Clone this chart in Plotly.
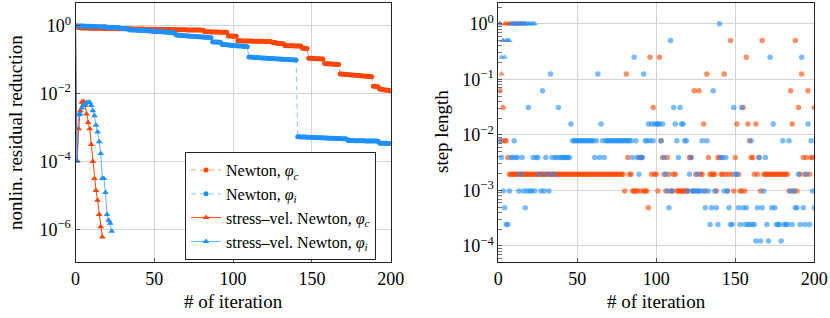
import plotly.graph_objects as go

# ---------------- data ----------------
# left: log10 of nonlinear residual reduction per iteration
newton_c_log = [
    0.000, -0.040, -0.050, -0.058, -0.062, -0.064, -0.066, -0.068, -0.069, -0.070,
    -0.071, -0.072, -0.072, -0.073, -0.074, -0.075, -0.076, -0.077, -0.077, -0.078,
    -0.079, -0.080, -0.081, -0.081, -0.082, -0.083, -0.084, -0.085, -0.086, -0.086,
    -0.087, -0.088, -0.089, -0.090, -0.090, -0.091, -0.092, -0.093, -0.094, -0.095,
    -0.095, -0.096, -0.097, -0.098, -0.099, -0.099, -0.100, -0.101, -0.102, -0.103,
    -0.104, -0.104, -0.105, -0.106, -0.107, -0.108, -0.108, -0.109, -0.110, -0.111,
    -0.112, -0.113, -0.113, -0.114, -0.115, -0.116, -0.117, -0.117, -0.118, -0.119,
    -0.120, -0.121, -0.122, -0.122, -0.123, -0.124, -0.125, -0.126, -0.126, -0.127,
    -0.128, -0.129, -0.175, -0.177, -0.178, -0.179, -0.180, -0.181, -0.182, -0.183,
    -0.184, -0.186, -0.187, -0.188, -0.189, -0.190, -0.191, -0.300, -0.302, -0.304,
    -0.306, -0.308, -0.310, -0.440, -0.442, -0.443, -0.445, -0.447, -0.448, -0.449,
    -0.450, -0.451, -0.452, -0.453, -0.454, -0.455, -0.456, -0.457, -0.458, -0.459,
    -0.460, -0.461, -0.462, -0.463, -0.464, -0.492, -0.494, -0.496, -0.520, -0.522,
    -0.524, -0.528, -0.530, -0.585, -0.586, -0.587, -0.588, -0.589, -0.590, -0.592,
    -0.594, -0.595, -0.596, -0.597, -0.660, -0.665, -0.668, -0.670, -0.955, -0.958,
    -0.960, -0.966, -0.968, -0.970, -0.972, -0.974, -0.978, -0.980, -1.110, -1.115,
    -1.118, -1.121, -1.124, -1.128, -1.131, -1.134, -1.137, -1.140, -1.420, -1.424,
    -1.428, -1.432, -1.436, -1.440, -1.444, -1.448, -1.452, -1.456, -1.460, -1.464,
    -1.468, -1.472, -1.476, -1.480, -1.484, -1.488, -1.492, -1.496, -1.500, -1.780,
    -1.785, -1.790, -1.795, -1.860, -1.870, -1.880, -1.890, -1.895, -1.900, -1.910,
    -1.920,
]
newton_i_log = [
    0.000, -0.003, -0.005, -0.007, -0.009, -0.010, -0.011, -0.013, -0.015, -0.017,
    -0.019, -0.020, -0.022, -0.023, -0.025, -0.026, -0.027, -0.029, -0.030, -0.032,
    -0.045, -0.046, -0.048, -0.049, -0.050, -0.052, -0.053, -0.054, -0.055, -0.080,
    -0.081, -0.083, -0.084, -0.086, -0.120, -0.122, -0.123, -0.125, -0.126, -0.133,
    -0.135, -0.136, -0.138, -0.140, -0.141, -0.143, -0.145, -0.152, -0.155, -0.158,
    -0.161, -0.165, -0.168, -0.171, -0.175, -0.178, -0.181, -0.185, -0.188, -0.192,
    -0.196, -0.200, -0.208, -0.222, -0.275, -0.278, -0.282, -0.285, -0.288, -0.292,
    -0.295, -0.298, -0.302, -0.305, -0.308, -0.312, -0.315, -0.318, -0.322, -0.325,
    -0.328, -0.332, -0.335, -0.338, -0.341, -0.345, -0.350, -0.475, -0.477, -0.479,
    -0.481, -0.483, -0.486, -0.548, -0.551, -0.554, -0.560, -0.564, -0.570, -0.573,
    -0.578, -0.583, -0.588, -0.592, -0.596, -0.599, -0.604, -0.608, -0.612, -0.616,
    -0.920, -0.923, -0.926, -0.929, -0.932, -0.936, -0.939, -0.943, -0.946, -0.949,
    -0.952, -0.955, -0.958, -0.961, -0.964, -0.967, -0.970, -0.973, -0.976, -0.979,
    -0.982, -0.985, -0.988, -0.991, -0.994, -0.996, -0.999, -1.001, -1.004, -1.007,
    -1.010, -3.270, -3.272, -3.274, -3.276, -3.278, -3.280, -3.282, -3.284, -3.286,
    -3.288, -3.290, -3.292, -3.294, -3.296, -3.298, -3.300, -3.302, -3.304, -3.306,
    -3.308, -3.310, -3.312, -3.314, -3.316, -3.318, -3.320, -3.322, -3.324, -3.326,
    -3.328, -3.330, -3.332, -3.380, -3.381, -3.382, -3.383, -3.384, -3.385, -3.386,
    -3.387, -3.388, -3.389, -3.390, -3.391, -3.392, -3.393, -3.394, -3.395, -3.396,
    -3.397, -3.398, -3.399, -3.460, -3.461, -3.462, -3.463, -3.464, -3.465, -3.466,
    -3.468,
]
sv_c_log = [0.0, -3.98, -3.03, -2.50, -2.25, -2.22, -2.35, -2.60, -2.85, -3.03,
            -3.50, -4.00, -4.50, -4.85, -5.14, -5.56, -5.92, -6.22]
sv_i_log = [0.0, -3.98, -2.62, -2.60, -2.42, -2.35, -2.30, -2.27, -2.26, -2.25,
            -2.35, -2.50, -2.65, -2.93, -3.13, -3.42, -3.76, -4.50, -4.50, -4.91,
            -5.56, -5.73, -5.82, -6.05]

# right: step length = 2^-k, k per iteration (iterations 1..N)
newton_c_k = [
    4, 7, 5, 7, 7, 8, 9, 9, 9, 9,
    9, 9, 9, 9, 9, 9, 9, 9, 9, 9,
    9, 9, 9, 9, 9, 9, 9, 9, 9, 9,
    9, 9, 9, 9, 9, 9, 9, 9, 9, 9,
    9, 9, 9, 9, 9, 9, 9, 9, 9, 9,
    9, 9, 9, 9, 9, 9, 9, 9, 9, 9,
    9, 9, 9, 9, 9, 9, 9, 9, 9, 9,
    9, 9, 9, 9, 9, 9, 9, 9, 9, 10,
    3, 8, 9, 9, 10, 10, 10, 10, 8, 10,
    8, 10, 10, 10, 11, 2, 9, 5, 9, 9,
    10, 2, 7, 8, 9, 10, 8, 9, 10, 10,
    9, 9, 10, 10, 10, 10, 10, 10, 10, 10,
    8, 8, 10, 4, 9, 10, 4, 9, 9, 6,
    10, 3, 8, 9, 9, 9, 9, 10, 8, 8,
    9, 9, 3, 9, 10, 9, 1, 9, 10, 8,
    6, 9, 10, 10, 5, 10, 2, 6, 7, 8,
    8, 9, 6, 9, 8, 10, 1, 9, 9, 9,
    9, 9, 9, 9, 9, 9, 9, 9, 9, 9,
    9, 9, 9, 10, 4, 6, 10, 1, 10, 5,
    9, 3, 8, 9, 8, 4, 9, 8, 8, 5,
]
newton_i_k = [
    7, 8, 10, 11, 12, 12, 10, 8, 8, 7,
    8, 8, 10, 9, 8, 10, 11, 10, 5, 10,
    10, 8, 10, 8, 8, 9, 10, 4, 10, 8,
    9, 10, 3, 8, 9, 8, 8, 5, 8, 8,
    8, 8, 8, 8, 8, 6, 7, 7, 7, 7,
    7, 7, 7, 7, 7, 7, 7, 7, 7, 7,
    8, 7, 3, 8, 6, 7, 8, 7, 7, 7,
    7, 7, 7, 7, 7, 7, 7, 7, 7, 7,
    7, 7, 7, 7, 8, 2, 7, 8, 9, 8,
    8, 3, 7, 7, 6, 7, 6, 7, 6, 6,
    6, 6, 7, 6, 8, 9, 10, 11, 1, 10,
    5, 6, 7, 8, 5, 6, 6, 7, 7, 10,
    9, 8, 10, 10, 10, 9, 10, 10, 7, 10,
    11, 7, 10, 12, 11, 4, 10, 11, 12, 0,
    8, 8, 10, 8, 10, 11, 12, 12, 5, 9,
    9, 11, 12, 5, 11, 12, 11, 12, 12, 7,
    12, 12, 13, 11, 8, 13, 11, 10, 8, 12,
    13, 2, 11, 6, 11, 12, 12, 12, 13, 7,
    12, 12, 12, 7, 10, 12, 10, 11, 11, 9,
    12, 2, 11, 12, 9, 6, 12, 7, 10, 11,
]
sv_c_k = [0, 3, 1, 0, 0, 0, 0, 0, 0, 0, 0, 0, 0, 0, 0, 0, 0]
sv_i_k = [0, 2, 1, 2, 1, 1, 1, 0, 0, 0, 0, 0, 0, 0, 0, 0, 0, 0, 0, 0, 0, 0, 0]

names = ["Newton, <i>φ<sub>c</sub></i>", "Newton, <i>φ<sub>i</sub></i>",
         "stress–vel. Newton, <i>φ<sub>c</sub></i>", "stress–vel. Newton, <i>φ<sub>i</sub></i>"]
res_ticks = [1, 1e-2, 1e-4, 1e-6]
res_ticktext = ["10<sup>0</sup>", "10<sup>−2</sup>", "10<sup>−4</sup>", "10<sup>−6</sup>"]
step_ticks = [1, 1e-1, 1e-2, 1e-3, 1e-4]
step_ticktext = ["10<sup>0</sup>", "10<sup>−1</sup>", "10<sup>−2</sup>", "10<sup>−3</sup>", "10<sup>−4</sup>"]
x_ticks = [0, 50, 100, 150, 200]

# ---------------- figure ----------------
OR = "#ff4500"
BL = "#1e90ff"
OR_A = "rgba(255,69,0,0.55)"
BL_A = "rgba(30,144,255,0.55)"

def pow10(a):
    return [10 ** v for v in a]

def steps(ks):
    return [2.0 ** (-k) for k in ks]

fig = go.Figure()

# left panel
fig.add_trace(go.Scatter(x=list(range(len(newton_c_log))), y=pow10(newton_c_log),
    mode="lines+markers", name=names[0], xaxis="x", yaxis="y",
    line=dict(color=OR_A, width=1, dash="5px,4px"),
    marker=dict(color=OR, size=5, line=dict(width=0))))
fig.add_trace(go.Scatter(x=list(range(len(newton_i_log))), y=pow10(newton_i_log),
    mode="lines+markers", name=names[1], xaxis="x", yaxis="y",
    line=dict(color=BL_A, width=1, dash="5px,4px"),
    marker=dict(color=BL, size=5, line=dict(width=0))))
fig.add_trace(go.Scatter(x=list(range(len(sv_c_log))), y=pow10(sv_c_log),
    mode="lines+markers", name=names[2], xaxis="x", yaxis="y",
    line=dict(color=OR, width=1),
    marker=dict(color=OR, size=6, symbol="triangle-up", line=dict(width=0))))
fig.add_trace(go.Scatter(x=list(range(len(sv_i_log))), y=pow10(sv_i_log),
    mode="lines+markers", name=names[3], xaxis="x", yaxis="y",
    line=dict(color="rgba(30,144,255,0.7)", width=1),
    marker=dict(color=BL, size=6, symbol="triangle-up", line=dict(width=0))))

# right panel
fig.add_trace(go.Scatter(x=list(range(1, len(newton_c_k) + 1)), y=steps(newton_c_k),
    mode="markers", showlegend=False, xaxis="x2", yaxis="y2",
    marker=dict(color=OR, size=5.5, opacity=0.6, line=dict(width=0))))
fig.add_trace(go.Scatter(x=list(range(1, len(newton_i_k) + 1)), y=steps(newton_i_k),
    mode="markers", showlegend=False, xaxis="x2", yaxis="y2",
    marker=dict(color=BL, size=5.5, opacity=0.6, line=dict(width=0))))
fig.add_trace(go.Scatter(x=list(range(1, len(sv_c_k) + 1)), y=steps(sv_c_k),
    mode="markers", showlegend=False, xaxis="x2", yaxis="y2",
    marker=dict(color=OR, size=6, symbol="triangle-up", opacity=0.6, line=dict(width=0))))
fig.add_trace(go.Scatter(x=list(range(1, len(sv_i_k) + 1)), y=steps(sv_i_k),
    mode="markers", showlegend=False, xaxis="x2", yaxis="y2",
    marker=dict(color=BL, size=6, symbol="triangle-up", opacity=0.6, line=dict(width=0))))

FONT = "Liberation Serif"
TICKFONT = dict(family=FONT, size=18, color="black")
GRID = "#d4d4d4"
AX = dict(showline=True, linecolor="#222", linewidth=1, mirror=True, automargin=False,
          showgrid=True, gridcolor=GRID, gridwidth=1, zeroline=False,
          tickfont=TICKFONT, ticks="inside", ticklen=4, tickcolor="#555")

minor_vals = []
for e in range(-5, 1):
    for m in range(2, 10):
        minor_vals.append(m * 10.0 ** e)

TITLE_FONT = dict(family=FONT, size=19, color="black")

fig.update_layout(
    width=830, height=318,
    margin=dict(l=0, r=0, t=0, b=0),
    paper_bgcolor="white", plot_bgcolor="white",
    font=dict(family=FONT, size=17, color="black"),
    xaxis=dict(domain=[0.0910, 0.4707], range=[0, 200], tickvals=x_ticks, anchor="y", **AX),
    yaxis=dict(domain=[0.176, 0.9915], type="log", range=[-6.96, 0.68],
               tickvals=res_ticks, ticktext=res_ticktext, anchor="x", **AX),
    xaxis2=dict(domain=[0.6004, 0.9811], range=[0, 200], tickvals=x_ticks, anchor="y2", **AX),
    yaxis2=dict(domain=[0.176, 0.9915], type="log", range=[-4.29, 0.38],
                tickvals=step_ticks, ticktext=step_ticktext, anchor="x2",
                minor=dict(tickvals=minor_vals, ticks="inside", ticklen=4,
                           tickcolor="#777", showgrid=False),
                **AX),
    legend=dict(x=0.453, xanchor="right", y=0.182, yanchor="bottom",
                bgcolor="white", bordercolor="#222", borderwidth=1,
                font=dict(family=FONT, size=16, color="black"),
                itemwidth=30, tracegroupgap=0),
    showlegend=True,
    annotations=[
        dict(text="# of iteration", x=(0.0910 + 0.4707) / 2, y=1 - 301 / 318,
             xanchor="center", yanchor="middle",
             xref="paper", yref="paper", showarrow=False, font=TITLE_FONT),
        dict(text="# of iteration", x=(0.6004 + 0.9811) / 2, y=1 - 301 / 318,
             xanchor="center", yanchor="middle",
             xref="paper", yref="paper", showarrow=False, font=TITLE_FONT),
        dict(text="nonlin. residual reduction", x=15 / 830, y=1 - 133 / 318, textangle=-90,
             xanchor="center", yanchor="middle",
             xref="paper", yref="paper", showarrow=False, font=TITLE_FONT),
        dict(text="step length", x=441 / 830, y=1 - 132 / 318, textangle=-90,
             xanchor="center", yanchor="middle",
             xref="paper", yref="paper", showarrow=False, font=TITLE_FONT),
    ],
)

fig.write_html("out.html", config={"displayModeBar": False},
               post_script="document.body.style.margin='0px';document.body.style.overflow='hidden';")
